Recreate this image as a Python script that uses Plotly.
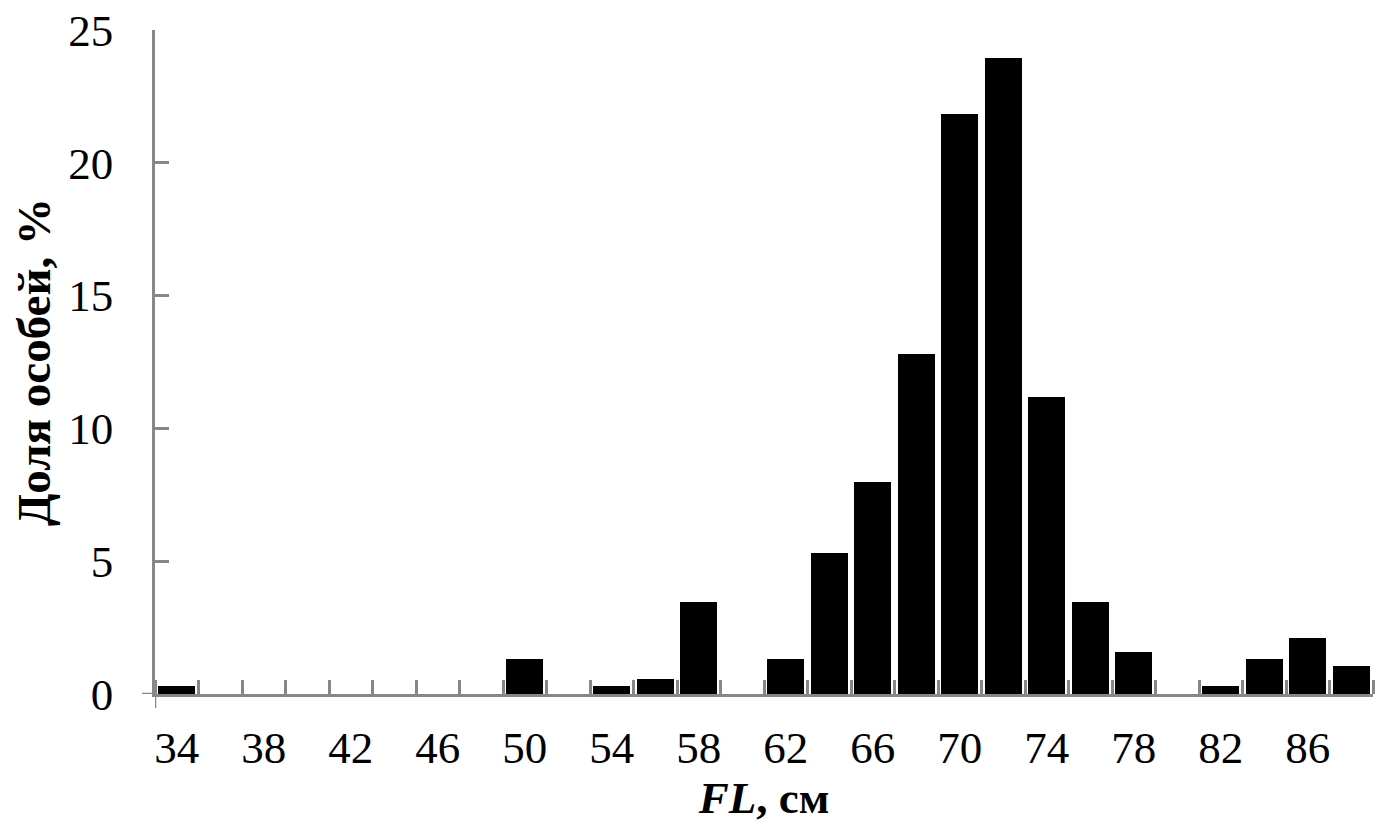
import plotly.graph_objects as go

fl_cm = [34, 36, 38, 40, 42, 44, 46, 48, 50, 52, 54, 56, 58, 60,
         62, 64, 66, 68, 70, 72, 74, 76, 78, 80, 82, 84, 86, 88]
share_pct = [0.3, 0, 0, 0, 0, 0, 0, 0, 1.3, 0, 0.3, 0.55, 3.48, 0,
             1.32, 5.31, 7.98, 12.8, 21.84, 23.95, 11.18, 3.48, 1.6, 0,
             0.3, 1.32, 2.12, 1.05]
x_tick_labels = [34, 38, 42, 46, 50, 54, 58, 62, 66, 70, 74, 78, 82, 86]
y_tick_labels = [0, 5, 10, 15, 20, 25]
boundaries = [v - 1 for v in fl_cm] + [fl_cm[-1] + 1]

AX = "#878787"
FONT = "Liberation Serif, Times New Roman, serif"

fig = go.Figure(go.Bar(x=fl_cm, y=share_pct, width=1.7,
                       marker=dict(color="black", line=dict(width=0))))

fig.update_layout(
    width=1389, height=827,
    margin=dict(l=147, r=24, t=22, b=141),
    plot_bgcolor="white", paper_bgcolor="white",
    font=dict(family=FONT, size=45, color="black"),
    showlegend=False,
    bargap=0,
)
fig.update_xaxes(
    range=[boundaries[0], boundaries[-1]],
    automargin=False,
    tickmode="array", tickvals=x_tick_labels,
    ticks="", showgrid=False, zeroline=False,
    showline=True, linecolor=AX, linewidth=2.5,
    ticklabelstandoff=12,
    tickfont=dict(family=FONT, size=45),
    minor=dict(tickmode="array", tickvals=boundaries, ticks="inside",
               ticklen=14, tickwidth=2.5, tickcolor=AX, showgrid=False),
    title=dict(text="<b><i>FL</i>, см</b>", font=dict(family=FONT, size=45),
               standoff=0),
)
fig.update_yaxes(
    range=[0, 25],
    automargin=False,
    tickmode="array", tickvals=y_tick_labels,
    ticks="inside", ticklen=14, tickwidth=2.5, tickcolor=AX,
    showgrid=False, zeroline=False,
    showline=True, linecolor=AX, linewidth=2.5,
    ticklabelstandoff=30,
    ticklabeloverflow="allow",
    tickfont=dict(family=FONT, size=45),
    title=dict(text="<b>Доля особей, %</b>", font=dict(family=FONT, size=47),
               standoff=5),
)
# small axis extensions beyond the crossing point
fig.add_shape(type="line", xref="x", yref="paper", x0=boundaries[0], x1=boundaries[0],
              y0=0, y1=-14 / 664, line=dict(color=AX, width=2.5))
fig.add_shape(type="line", xref="paper", yref="y", x0=0, x1=-13 / 1218,
              y0=0, y1=0, line=dict(color=AX, width=2.5))

fig.write_html("out.html")
